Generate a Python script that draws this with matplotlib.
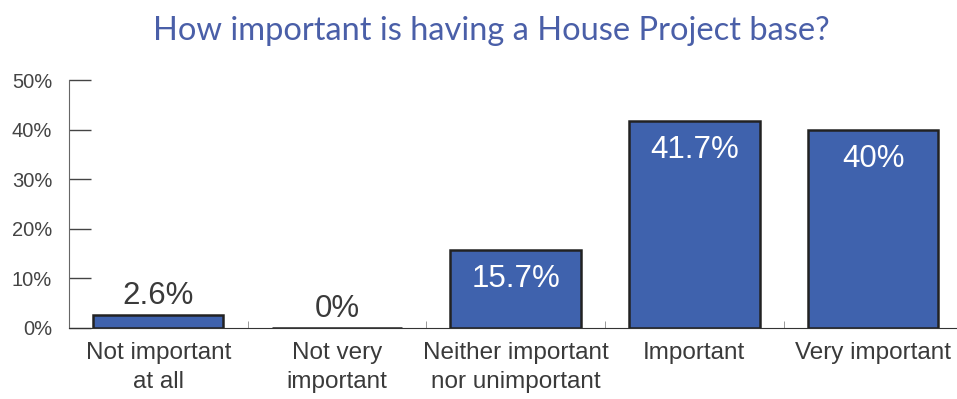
import matplotlib.pyplot as plt
import numpy as np

categorias = ['Not important\nat all', 'Not very\nimportant', 'Neither important\nnor unimportant',
              'Important', 'Very important']
valores = [2.6, 0, 15.7, 41.7, 40]
etiquetas = ['2.6%', '0%', '15.7%', '41.7%', '40%']
ticks_y = [0, 10, 20, 30, 40, 50]

plt.rcParams['font.family'] = ['Liberation Sans', 'DejaVu Sans']

fig = plt.figure(figsize=(9.57, 3.99), dpi=100)
ax = fig.add_axes([0.072, 0.178, 0.928, 0.621])

x = np.arange(len(categorias))
ax.bar(x, valores, width=0.73, color='#3f62ad', edgecolor='#222222', linewidth=1.8, zorder=3)

for i, (v, t) in enumerate(zip(valores, etiquetas)):
    if v > 10:
        ax.annotate(t, (i, v), xytext=(0, -21), textcoords='offset points', ha='center', va='center',
                    color='white', fontsize=22.5)
    else:
        ax.annotate(t, (i, v), xytext=(0, 14), textcoords='offset points', ha='center', va='center',
                    color='#3a3a3a', fontsize=22.5)

ax.set_xlim(-0.5, 4.47)
ax.set_ylim(0, 50)
ax.set_yticks(ticks_y)
ax.set_yticklabels([f'{t}%' for t in ticks_y], color='#444444', fontsize=14.5)
ax.tick_params(axis='y', direction='in', length=16, width=1, color='#444444', pad=12)

ax.set_xticks(x)
ax.set_xticklabels(categorias, fontsize=17.5, color='#3a3a3a', linespacing=1.4)
ax.set_xticks(x[:-1] + 0.5, minor=True)
ax.tick_params(axis='x', which='major', length=0, pad=10)
ax.tick_params(axis='x', which='minor', direction='in', length=5, color='#888888')

for s in ['top', 'right']:
    ax.spines[s].set_visible(False)
ax.spines['left'].set_color('#666666')
ax.spines['bottom'].set_color('#333333')

fig.suptitle('How important is having a House Project base?', x=0.513, y=0.96,
             color='#4a5fa8', fontsize=23.5, family='Lato')

plt.savefig('out.png', dpi=100)
